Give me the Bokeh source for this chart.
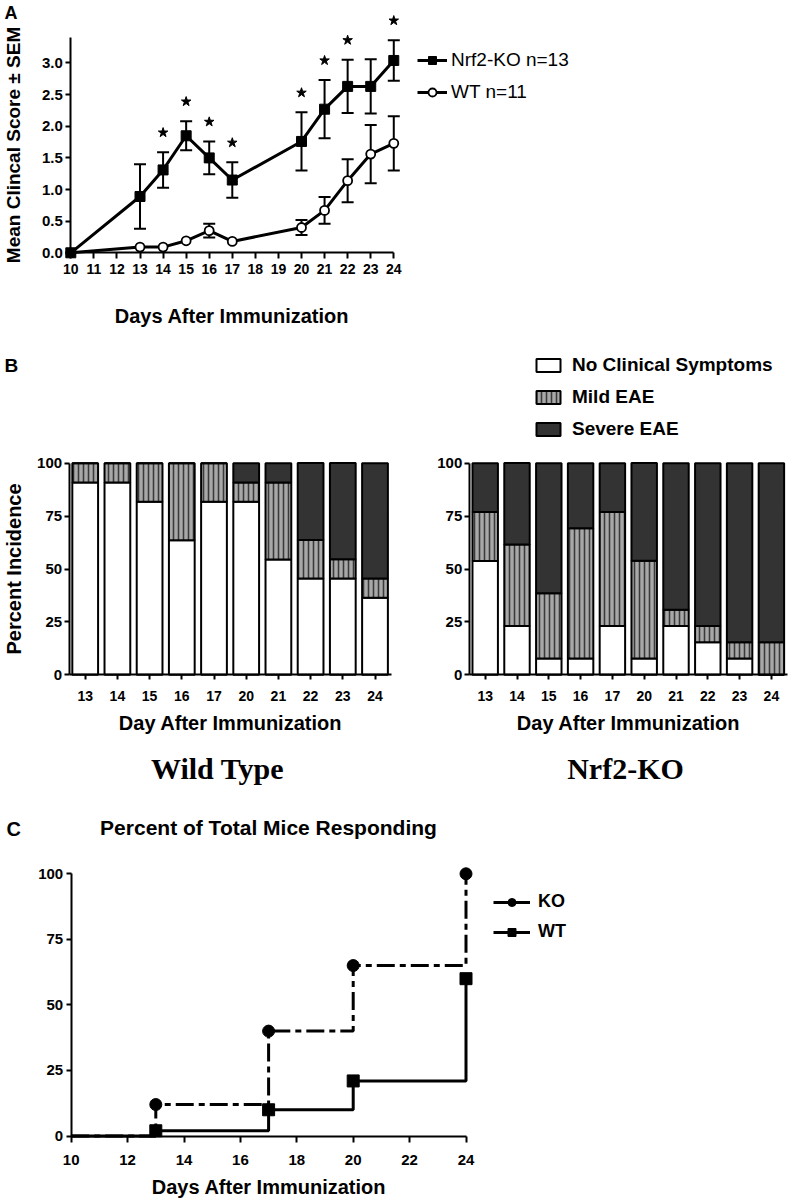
from bokeh.plotting import figure
from bokeh.models import (Range1d, FixedTicker, Legend, LegendItem, Label,
                          ColumnDataSource, NumeralTickFormatter)
from bokeh.layouts import column, row
from bokeh.embed import file_html
from bokeh.resources import INLINE

SANS = "Liberation Sans"
SERIF = "Liberation Serif"

# ---------------- Panel A data ----------------
days_a = [10, 13, 14, 15, 16, 17, 20, 21, 22, 23, 24]
ko_mean = [0.0, 0.89, 1.31, 1.85, 1.50, 1.15, 1.76, 2.27, 2.63, 2.63, 3.04]
ko_sem = [0.0, 0.51, 0.28, 0.23, 0.26, 0.28, 0.46, 0.46, 0.42, 0.43, 0.32]
wt_mean = [0.0, 0.09, 0.09, 0.19, 0.35, 0.18, 0.40, 0.67, 1.14, 1.56, 1.73]
wt_sem = [0.0, 0.0, 0.0, 0.0, 0.11, 0.0, 0.12, 0.21, 0.34, 0.46, 0.43]
sig_days = [14, 15, 16, 17, 20, 21, 22, 24]
a_xticks = list(range(10, 25))
a_yticks = [0.0, 0.5, 1.0, 1.5, 2.0, 2.5, 3.0]

# ---------------- Panel B data ----------------
b_days = ["13", "14", "15", "16", "17", "20", "21", "22", "23", "24"]
wt_none = [90.9, 90.9, 81.8, 63.6, 81.8, 81.8, 54.5, 45.5, 45.5, 36.4]
wt_mild = [9.1, 9.1, 18.2, 36.4, 18.2, 9.1, 36.4, 18.2, 9.1, 9.1]
wt_severe = [0.0, 0.0, 0.0, 0.0, 0.0, 9.1, 9.1, 36.4, 45.5, 54.5]
ko_none = [53.8, 23.1, 7.7, 7.7, 23.1, 7.7, 23.1, 15.4, 7.7, 0.0]
ko_mild = [23.1, 38.5, 30.8, 61.5, 53.8, 46.2, 7.7, 7.7, 7.7, 15.4]
ko_severe = [23.1, 38.5, 61.5, 30.8, 23.1, 46.2, 69.2, 76.9, 84.6, 84.6]
b_categories = ["No Clinical Symptoms", "Mild EAE", "Severe EAE"]
b_yticks = [0, 25, 50, 75, 100]

# ---------------- Panel C data ----------------
c_days = [10, 13, 17, 20, 24]
c_ko = [0, 12, 40, 65, 100]
c_wt = [0, 2, 10, 21, 60]
c_xticks = [10, 12, 14, 16, 18, 20, 22, 24]
c_yticks = [0, 25, 50, 75, 100]


def xrange_px(v0, p0, k, size):
    """value v0 sits p0 px from the left edge, k px per unit"""
    start = v0 - p0 / k
    return Range1d(start, start + size / k)


def yrange_px(v0, p0, k, size):
    """value v0 sits p0 px from the top edge, k px per unit"""
    end = v0 + p0 / k
    return Range1d(end - size / k, end)


def make_fig(w, h, xr, yr):
    p = figure(width=w, height=h, x_range=xr, y_range=yr, output_backend="svg",
               toolbar_location=None, title=None,
               min_border_left=0, min_border_right=0, min_border_top=0, min_border_bottom=0)
    p.grid.visible = False
    p.outline_line_color = None
    return p


def style_axes(p, tick_size):
    for ax in [p.xaxis[0], p.yaxis[0]]:
        ax.axis_line_width = 2
        ax.axis_line_color = "black"
        ax.major_tick_line_width = 2
        ax.major_tick_line_color = "black"
        ax.minor_tick_line_color = None
        ax.major_tick_in = 0
        ax.major_tick_out = 6
        ax.major_label_text_font = SANS
        ax.major_label_text_font_style = "bold"
        ax.major_label_text_font_size = tick_size
        ax.major_label_text_color = "black"
        ax.axis_label_text_font = SANS
        ax.axis_label_text_font_style = "bold"
        ax.axis_label_text_font_size = "20px"
        ax.axis_label_text_color = "black"


def text(p, t, x, y, size="19px", font=SANS, align="left"):
    p.add_layout(Label(x=x, y=y, x_units="screen", y_units="screen", text=t,
                       text_font=font, text_font_size=size, text_font_style="bold",
                       text_baseline="middle", text_align=align, text_color="black"))


def style_legend(lg, gw, gh, lh, sp, st, size, fstyle):
    lg.glyph_width = gw
    lg.glyph_height = gh
    lg.label_height = lh
    lg.spacing = sp
    lg.label_standoff = st
    lg.label_text_font = SANS
    lg.label_text_font_size = size
    lg.label_text_font_style = fstyle
    lg.label_text_color = "black"
    lg.padding = 0
    lg.margin = 0
    lg.border_line_color = None
    lg.background_fill_alpha = 0


# ================= Panel A =================
WA, HA = 790, 341
pA = make_fig(WA, HA, xrange_px(10, 70.3, 23.07, WA), yrange_px(0, 252.3, 63.27, HA))
style_axes(pA, "14px")
xa, ya = pA.xaxis[0], pA.yaxis[0]
ya.major_label_text_font_size = "15px"
xa.fixed_location = 0
ya.fixed_location = 10
xa.ticker = FixedTicker(ticks=a_xticks)
ya.ticker = FixedTicker(ticks=a_yticks)
ya.formatter = NumeralTickFormatter(format="0.0")
xa.bounds = (10, 24)
ya.bounds = (0, 3.4)
xa.major_label_standoff = 5
ya.major_tick_out = 5
ya.major_label_standoff = 3
xa.axis_label = "Days After Immunization"
xa.axis_label_standoff = 28
ya.axis_label = "Mean Clincal Score \u00b1 SEM"
ya.axis_label_standoff = 15
ya.axis_label_text_font_size = "19px"

# WT series
wt_line = pA.line(days_a, wt_mean, line_width=3, color="black")
wt_d = [d for d, s in zip(days_a, wt_sem) if s > 0]
wt_lo = [m - s for m, s in zip(wt_mean, wt_sem) if s > 0]
wt_hi = [m + s for m, s in zip(wt_mean, wt_sem) if s > 0]
pA.segment(x0=wt_d, y0=wt_lo, x1=wt_d, y1=wt_hi, line_width=2, color="black")
pA.scatter(wt_d + wt_d, wt_lo + wt_hi, marker="dash", size=12, line_width=2, color="black")
wt_pts = pA.scatter(days_a, wt_mean, marker="circle", size=9, fill_color="white",
                    line_color="black", line_width=1.8)

# KO series
ko_line = pA.line(days_a, ko_mean, line_width=3, color="black")
ko_d = [d for d, s in zip(days_a, ko_sem) if s > 0]
ko_lo = [m - s for m, s in zip(ko_mean, ko_sem) if s > 0]
ko_hi = [m + s for m, s in zip(ko_mean, ko_sem) if s > 0]
pA.segment(x0=ko_d, y0=ko_lo, x1=ko_d, y1=ko_hi, line_width=2, color="black")
pA.scatter(ko_d + ko_d, ko_lo + ko_hi, marker="dash", size=12, line_width=2, color="black")
ko_pts = pA.scatter(days_a, ko_mean, marker="square", size=10, color="black")

# significance stars above the KO error bars
star_y = [ko_mean[days_a.index(d)] + ko_sem[days_a.index(d)] + 0.31 for d in sig_days]
pA.scatter(sig_days, star_y, marker="star", size=10, color="black")

legA = Legend(items=[LegendItem(label="Nrf2-KO n=13", renderers=[ko_line, ko_pts]),
                     LegendItem(label="WT n=11", renderers=[wt_line, wt_pts])],
              location=(417, 238))
style_legend(legA, 30, 20, 20, 10, 4, "19px", "normal")
pA.add_layout(legA)
text(pA, "A", 4, HA - 12, "18px")


# ================= Panel B =================
HB = 449


def make_b(none, mild, severe, width, x0px, kx, ylabel, with_legend):
    pos = list(range(len(b_days)))
    src = ColumnDataSource(dict(pos=pos, none=none, mild=mild, severe=severe))
    p = make_fig(width, HB, xrange_px(0, x0px, kx, width), yrange_px(0, 333.3, 2.116, HB))
    style_axes(p, "14px")
    xb, yb = p.xaxis[0], p.yaxis[0]
    yb.major_label_text_font_size = "15px"
    xb.fixed_location = 0
    yb.fixed_location = -0.5
    xb.bounds = (-0.5, len(b_days) - 0.5)
    yb.bounds = (0, 100)
    xb.ticker = FixedTicker(ticks=pos)
    xb.major_label_overrides = {i: d for i, d in zip(pos, b_days)}
    yb.ticker = FixedTicker(ticks=b_yticks)
    yb.major_tick_out = 5
    yb.major_label_standoff = 2
    xb.major_tick_out = 5
    xb.major_label_standoff = 11
    xb.axis_label = "Day After Immunization"
    xb.axis_label_standoff = 8
    if ylabel:
        yb.axis_label = "Percent Incidence"
        yb.axis_label_standoff = 9
    kw = dict(x="pos", width=0.8, source=src, line_color="black", line_width=2,
              fill_color=["white", "#a8a8a8", "#333333"],
              hatch_pattern=[" ", "|", " "], hatch_color="#3a3a3a",
              hatch_scale=5, hatch_weight=1.6)
    if with_legend:
        kw["legend_label"] = b_categories
    p.vbar_stack(["none", "mild", "severe"], **kw)
    return p


pBL = make_b(wt_none, wt_mild, wt_severe, 411, 84.7, 32.2, True, False)
pBR = make_b(ko_none, ko_mild, ko_severe, 379, 73.7, 31.8, False, True)
legB = pBR.legend[0]
legB.location = (122, 350)
style_legend(legB, 30, 16, 16, 10, 9, "19px", "bold")
text(pBL, "B", 4, HB - 24, "19px")
text(pBL, "Wild Type", 217, 22, "30px", SERIF, "center")
text(pBR, "Nrf2-KO", 214, 22, "30px", SERIF, "center")

# ================= Panel C =================
WC, HC = 790, 408
pC = make_fig(WC, HC, xrange_px(10, 70.7, 28.2, WC), yrange_px(0, 345.5, 2.622, HC))
style_axes(pC, "15px")
xc, yc = pC.xaxis[0], pC.yaxis[0]
xc.fixed_location = 0
yc.fixed_location = 10
xc.ticker = FixedTicker(ticks=c_xticks)
yc.ticker = FixedTicker(ticks=c_yticks)
xc.bounds = (10, 24)
yc.bounds = (0, 100)
yc.major_tick_out = 5
yc.major_label_standoff = 3
xc.major_label_standoff = 13
xc.axis_label = "Days After Immunization"
xc.axis_label_standoff = 7

ko_step = pC.step(c_days, c_ko, mode="after", line_width=3, line_dash="18 5 6 5", color="black")
wt_step = pC.step(c_days, c_wt, mode="after", line_width=3, color="black")
ko_c_pts = pC.scatter(c_days[1:], c_ko[1:], marker="circle", size=12, color="black")
wt_c_pts = pC.scatter(c_days[1:], c_wt[1:], marker="square", size=12, color="black")

legC = Legend(items=[LegendItem(label="KO", renderers=[wt_step, ko_c_pts]),
                     LegendItem(label="WT", renderers=[wt_step, wt_c_pts])],
              location=(493, 256))
style_legend(legC, 37, 20, 20, 9, 8, "18px", "bold")
pC.add_layout(legC)
text(pC, "C", 6, HC - 38, "20px")
text(pC, "Percent of Total Mice Responding", 268, HC - 37, "21px", SANS, "center")

layout = column(pA, row(pBL, pBR, spacing=0), pC, spacing=0)
open("out.html", "w").write(file_html(layout, INLINE))
